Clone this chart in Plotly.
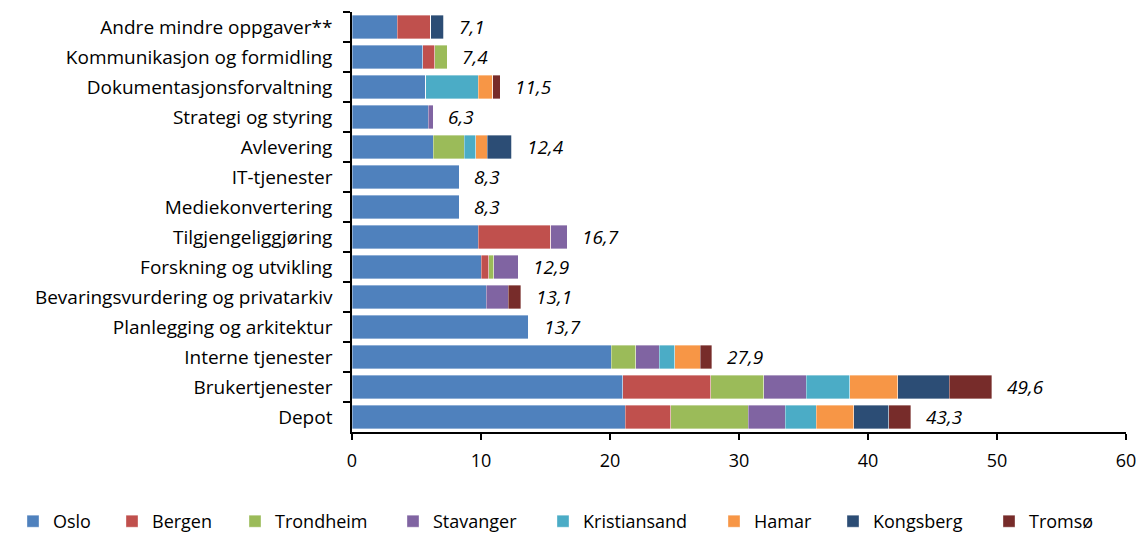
import plotly.graph_objects as go

categories = [
    "Andre mindre oppgaver**",
    "Kommunikasjon og formidling",
    "Dokumentasjonsforvaltning",
    "Strategi og styring",
    "Avlevering",
    "IT-tjenester",
    "Mediekonvertering",
    "Tilgjengeliggjøring",
    "Forskning og utvikling",
    "Bevaringsvurdering og privatarkiv",
    "Planlegging og arkitektur",
    "Interne tjenester",
    "Brukertjenester",
    "Depot",
]

oslo         = [3.5, 5.5, 5.7, 5.9, 6.3, 8.3, 8.3, 9.8, 10.0, 10.4, 13.7, 20.1, 21.0, 21.2]
bergen       = [2.6, 0.9, 0.0, 0.0, 0.0, 0.0, 0.0, 5.6, 0.6, 0.0, 0.0, 0.0, 6.8, 3.5]
trondheim    = [0.0, 1.0, 0.0, 0.0, 2.4, 0.0, 0.0, 0.0, 0.4, 0.0, 0.0, 1.9, 4.1, 6.0]
stavanger    = [0.0, 0.0, 0.0, 0.4, 0.0, 0.0, 0.0, 1.3, 1.9, 1.7, 0.0, 1.8, 3.3, 2.9]
kristiansand = [0.0, 0.0, 4.1, 0.0, 0.9, 0.0, 0.0, 0.0, 0.0, 0.0, 0.0, 1.2, 3.4, 2.4]
hamar        = [0.0, 0.0, 1.1, 0.0, 0.9, 0.0, 0.0, 0.0, 0.0, 0.0, 0.0, 2.0, 3.7, 2.9]
kongsberg    = [1.0, 0.0, 0.0, 0.0, 1.9, 0.0, 0.0, 0.0, 0.0, 0.0, 0.0, 0.0, 4.0, 2.7]
tromso       = [0.0, 0.0, 0.6, 0.0, 0.0, 0.0, 0.0, 0.0, 0.0, 1.0, 0.0, 0.9, 3.3, 1.7]

totals = [7.1, 7.4, 11.5, 6.3, 12.4, 8.3, 8.3, 16.7, 12.9, 13.1, 13.7, 27.9, 49.6, 43.3]

series = [
    ("Oslo", oslo, "#4F81BD"),
    ("Bergen", bergen, "#C0504D"),
    ("Trondheim", trondheim, "#9BBB59"),
    ("Stavanger", stavanger, "#8064A2"),
    ("Kristiansand", kristiansand, "#4BACC6"),
    ("Hamar", hamar, "#F79646"),
    ("Kongsberg", kongsberg, "#2C4D75"),
    ("Tromsø", tromso, "#772C2A"),
]

# left edge (px) of each legend entry, spacing as in the reference
legend_px = [13, 112, 235, 393, 543, 714, 833, 989]

FONT = "Open Sans, sans-serif"
L, R, T, B, W, H = 352, 20, 12, 106, 1146, 538
PW, PH = W - L - R, H - T - B

fig = go.Figure()
legend_layouts = {}
for i, (name, vals, color) in enumerate(series):
    lname = "legend" if i == 0 else f"legend{i + 1}"
    fig.add_trace(go.Bar(
        y=categories, x=vals, name=name, orientation="h",
        marker=dict(color=color, line=dict(color="rgba(255,255,255,0.6)", width=0.6)),
        hoverinfo="x+name", legend=lname,
    ))
    legend_layouts[lname] = dict(
        orientation="h", x=(legend_px[i] - L) / PW, xanchor="left",
        y=-(503 - (T + PH)) / PH, yanchor="top",
        font=dict(family=FONT, size=18), itemwidth=30,
        bgcolor="rgba(0,0,0,0)",
    )

for cat, tot in zip(categories, totals):
    fig.add_annotation(
        x=tot, y=cat, text=f"<i>{tot:.1f}</i>".replace(".", ","),
        showarrow=False, xanchor="left", xshift=13,
        font=dict(family=FONT, size=19, color="#000000"),
    )

fig.update_layout(
    barmode="stack",
    bargap=0.23,
    width=W, height=H,
    margin=dict(l=L, r=R, t=T, b=B, autoexpand=False),
    paper_bgcolor="white", plot_bgcolor="white",
    font=dict(family=FONT, size=18, color="#000000"),
    xaxis=dict(
        range=[0, 60], dtick=10, showgrid=False, zeroline=False,
        showline=True, linecolor="#000000", linewidth=1.5,
        ticks="outside", ticklen=6, tickcolor="#000000", tickwidth=1.5,
        tickfont=dict(family=FONT, size=18), automargin=False,
        ticklabelstandoff=6,
    ),
    yaxis=dict(
        autorange="reversed", showgrid=False,
        showline=True, linecolor="#000000", linewidth=1.5,
        ticks="outside", ticklen=7, tickcolor="#000000", tickwidth=1.5,
        tickson="boundaries", ticklabelstandoff=14,
        tickfont=dict(family=FONT, size=19), automargin=False,
    ),
    showlegend=True,
    **legend_layouts,
)

fig.write_html(
    "out.html",
    config={"displayModeBar": False},
    post_script="document.body.style.margin='0';document.body.style.padding='0';",
)
